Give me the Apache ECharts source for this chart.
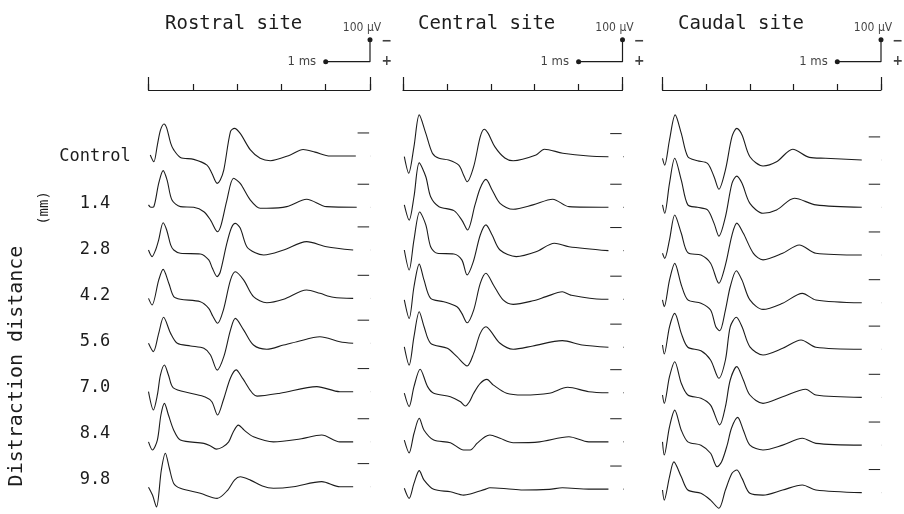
<!DOCTYPE html>
<html>
<head>
<meta charset="utf-8">
<script src="https://cdn.jsdelivr.net/npm/echarts@6/dist/echarts.min.js"></script>
<style>
  html, body { margin: 0; padding: 0; background: #fff; }
  #chart { width: 904px; height: 514px; }
</style>
</head>
<body>
<div id="chart"></div>
<script>
// Evoked spinal cord potentials at three recording sites under graded distraction.
// Each trace: [time (ms), amplitude (µV)], negativity up, "+" down.

const siteNames = ['Rostral site', 'Central site', 'Caudal site'];
const rowLabels = ['Control', '1.4', '2.8', '4.2', '5.6', '7.0', '8.4', '9.8'];

// calibration: 1 ms horizontal, 100 µV vertical
const calTime = [4, 5, 5];
const calAmp = [0, 0, -100];

const rostral = [
  [[0.04,-12],[0.12,19],[0.2,-57],[0.27,-125],[0.35,-153],[0.41,-135],[0.5,-66],[0.57,-35],[0.72,-1],[1.02,8],[1.32,34],[1.43,71],[1.55,117],[1.62,102],[1.70,56],[1.85,-118],[1.94,-133],[2.07,-110],[2.30,-35],[2.52,3],[2.75,14],[3.2,-12],[3.49,-37],[3.76,-25],[4.1,-7],[4.68,-7]],
  [[0,1],[0.05,12],[0.12,9],[0.23,-97],[0.33,-155],[0.42,-112],[0.53,-21],[0.72,9],[1.02,12],[1.25,32],[1.40,70],[1.56,123],[1.64,92],[1.77,-21],[1.92,-120],[2.07,-97],[2.30,-21],[2.52,16],[2.67,16],[3.12,9],[3.57,-25],[4.02,9],[4.7,12]],
  [[0,-8],[0.08,22],[0.16,-8],[0.23,-54],[0.33,-132],[0.41,-99],[0.5,-31],[0.57,-8],[0.72,7],[1.17,10],[1.36,37],[1.44,74],[1.55,113],[1.62,92],[1.76,-31],[1.87,-108],[1.96,-129],[2.07,-108],[2.22,-23],[2.41,5],[2.6,15],[3.05,-8],[3.57,-46],[4.02,-23],[4.62,-8]],
  [[0,-2],[0.08,28],[0.23,-85],[0.33,-134],[0.46,-70],[0.57,-10],[0.72,2],[1.17,13],[1.36,43],[1.45,78],[1.56,111],[1.69,51],[1.85,-85],[1.96,-123],[2.15,-85],[2.37,-10],[2.67,18],[3.05,2],[3.57,-40],[3.87,-25],[4.17,-7],[4.62,-2]],
  [[0,-12],[0.11,26],[0.23,-57],[0.34,-130],[0.5,-57],[0.65,-12],[0.95,0],[1.25,11],[1.40,41],[1.55,110],[1.70,49],[1.85,-72],[1.96,-125],[2.15,-72],[2.37,-4],[2.67,15],[3.05,-4],[3.35,-19],[3.87,-42],[4.32,-19],[4.62,-12]],
  [[0,-6],[0.11,77],[0.2,9],[0.27,-82],[0.36,-127],[0.45,-82],[0.56,-23],[0.95,1],[1.28,18],[1.43,40],[1.56,100],[1.69,32],[1.85,-68],[1.98,-105],[2.12,-68],[2.45,14],[2.97,1],[3.8,-29],[4.32,-6],[4.62,-6]],
  [[0,8],[0.09,45],[0.2,0],[0.28,-114],[0.36,-167],[0.45,-114],[0.57,-45],[0.72,0],[1.25,15],[1.40,27],[1.53,41],[1.67,32],[1.81,8],[1.91,-36],[2.03,-68],[2.16,-45],[2.37,-15],[2.82,8],[3.42,-5],[3.91,-23],[4.32,8],[4.62,8]],
  [[0,0],[0.09,36],[0.18,90],[0.29,-78],[0.38,-154],[0.47,-87],[0.57,-17],[0.72,5],[1.17,28],[1.55,51],[1.79,13],[1.94,-32],[2.07,-47],[2.30,-32],[2.57,-5],[2.82,5],[3.27,-2],[3.91,-25],[4.32,-2],[4.62,-2]]
];

const central = [
  [[0.03,-4],[0.13,71],[0.25,-50],[0.37,-194],[0.52,-110],[0.67,-20],[0.82,3],[1.04,11],[1.27,34],[1.38,79],[1.46,110],[1.61,41],[1.76,-95],[1.85,-129],[1.94,-110],[2.09,-50],[2.32,2],[2.51,14],[3.03,-12],[3.22,-38],[3.64,-20],[4.23,-7],[4.68,-4]],
  [[0.03,1],[0.14,70],[0.25,-36],[0.37,-190],[0.52,-127],[0.63,-36],[0.82,9],[1.16,27],[1.34,70],[1.47,115],[1.64,1],[1.76,-76],[1.89,-115],[2.03,-67],[2.21,-6],[2.51,21],[2.96,1],[3.41,-25],[3.78,9],[4.68,12]],
  [[0.03,-8],[0.14,83],[0.25,-54],[0.38,-181],[0.52,-122],[0.63,-23],[0.78,7],[1.16,10],[1.34,37],[1.46,105],[1.60,46],[1.76,-76],[1.89,-122],[2.03,-76],[2.21,-8],[2.58,22],[3.03,0],[3.45,-39],[3.78,-23],[4.68,-5]],
  [[0.03,5],[0.14,89],[0.25,-55],[0.37,-158],[0.48,-85],[0.63,-2],[0.93,13],[1.23,36],[1.34,66],[1.46,109],[1.61,51],[1.76,-70],[1.89,-116],[2.06,-63],[2.28,5],[2.51,25],[2.96,9],[3.26,-10],[3.63,-32],[3.82,-17],[4.53,2],[4.68,2]],
  [[0.03,4],[0.14,87],[0.25,-42],[0.37,-155],[0.48,-87],[0.63,-12],[1.01,11],[1.23,49],[1.46,91],[1.61,34],[1.76,-57],[1.89,-87],[1.98,-72],[2.21,-12],[2.51,15],[2.96,0],[3.63,-24],[4.08,-4],[4.68,6]],
  [[0.03,1],[0.14,62],[0.25,-29],[0.39,-108],[0.56,-29],[0.70,1],[1.08,17],[1.31,40],[1.42,59],[1.51,41],[1.61,1],[1.76,-44],[1.91,-62],[2.06,-36],[2.36,1],[2.73,9],[3.33,1],[3.75,-26],[4.23,-6],[4.68,-1]],
  [[0.03,0],[0.14,58],[0.25,-30],[0.37,-99],[0.48,-45],[0.70,0],[1.08,12],[1.38,45],[1.53,45],[1.69,14],[1.87,-15],[1.98,-23],[2.21,-8],[2.51,12],[3.11,8],[3.78,-15],[4.23,8],[4.68,8]],
  [[0.03,5],[0.14,51],[0.25,-17],[0.37,-75],[0.48,-32],[0.70,10],[1.08,21],[1.38,36],[1.53,31],[1.87,10],[1.98,3],[2.36,7],[2.73,13],[3.33,10],[3.63,3],[4.23,9],[4.68,9]]
];

const caudal = [
  [[0,3],[0.05,34],[0.16,-80],[0.29,-194],[0.43,-110],[0.58,-4],[0.80,14],[1.03,26],[1.18,87],[1.29,144],[1.44,56],[1.59,-95],[1.70,-133],[1.82,-103],[2.0,-4],[2.30,38],[2.61,19],[2.98,-38],[3.36,-1],[3.73,3],[4.56,11]],
  [[0,1],[0.05,39],[0.16,-97],[0.28,-211],[0.43,-112],[0.58,1],[0.80,12],[1.03,24],[1.18,85],[1.29,143],[1.44,55],[1.59,-97],[1.70,-130],[1.82,-97],[2.0,-6],[2.30,39],[2.61,24],[3.02,-29],[3.51,1],[4.56,12]],
  [[0,7],[0.05,30],[0.16,-54],[0.28,-167],[0.43,-84],[0.58,4],[0.88,15],[1.10,52],[1.29,143],[1.44,60],[1.59,-76],[1.70,-130],[1.85,-84],[2.08,7],[2.30,37],[2.75,7],[3.13,-31],[3.51,7],[4.56,15]],
  [[0,5],[0.04,36],[0.16,-85],[0.28,-161],[0.43,-63],[0.58,5],[0.88,20],[1.10,51],[1.22,127],[1.31,145],[1.44,51],[1.55,-55],[1.69,-128],[1.82,-85],[2.0,5],[2.30,48],[2.75,20],[3.20,-25],[3.51,5],[4.56,18]],
  [[0,-4],[0.04,37],[0.16,-87],[0.28,-148],[0.43,-57],[0.58,6],[0.88,22],[1.10,64],[1.29,147],[1.44,64],[1.55,-87],[1.69,-130],[1.82,-87],[2.0,4],[2.30,41],[2.75,11],[3.17,-27],[3.51,6],[4.56,15]],
  [[0,9],[0.04,47],[0.16,-74],[0.28,-142],[0.43,-44],[0.58,9],[0.88,24],[1.10,55],[1.31,145],[1.44,62],[1.55,-59],[1.70,-120],[1.85,-59],[2.0,9],[2.30,47],[2.75,17],[3.28,-17],[3.51,9],[4.56,20]],
  [[0,8],[0.04,68],[0.16,-60],[0.28,-136],[0.43,-45],[0.58,8],[0.88,23],[1.10,60],[1.25,121],[1.35,100],[1.48,23],[1.58,-55],[1.72,-103],[1.85,-45],[2.0,23],[2.30,45],[2.75,23],[3.20,-8],[3.51,15],[4.56,23]],
  [[0,13],[0.04,59],[0.16,-47],[0.26,-115],[0.43,-47],[0.58,13],[0.88,28],[1.10,59],[1.29,96],[1.44,13],[1.59,-63],[1.70,-78],[1.82,-40],[2.0,28],[2.30,36],[2.75,13],[3.20,-10],[3.51,13],[4.56,25]]
];

const sites = [rostral, central, caudal];

// ---- layout & style ----
const MONO = '"DejaVu Sans Mono", monospace';
const NARROW = '"Liberation Sans Narrow", "DejaVu Sans Condensed", "Liberation Sans", sans-serif';
const INK = '#1c1c1c';
const ROW_STEP = 214;        // vertical spacing between stacked traces (µV)
const CAL_BASE = -436;       // level of the calibration bar (µV, above the first trace)
const panels = [
  { left: 148.5, width: 221.5, titleLeft: 160 },
  { left: 403,   width: 219.5, titleLeft: 413 },
  { left: 662.5, width: 218.5, titleLeft: 673 }
];

const grid = [], xAxis = [], yAxis = [], series = [], title = [];

panels.forEach((p, i) => {
  grid.push({ left: p.left, width: p.width, top: 30, height: 484 });
  // 1-ms time scale bar
  xAxis.push({
    gridIndex: i, type: 'value', min: 0, max: 5, interval: 1,
    position: 'top', offset: -60,
    axisLine: { show: true, onZero: false, lineStyle: { color: INK, width: 1.2 } },
    axisTick: { show: true, length: 6, lineStyle: { color: INK, width: 1.2 } },
    axisLabel: { show: false }, splitLine: { show: false }
  });
  // taller end caps of the bar
  xAxis.push({
    gridIndex: i, type: 'value', min: 0, max: 5, interval: 5,
    position: 'top', offset: -60,
    axisLine: { show: false, onZero: false },
    axisTick: { show: true, length: 13, lineStyle: { color: INK, width: 1.2 } },
    axisLabel: { show: false }, splitLine: { show: false }
  });
  yAxis.push({ gridIndex: i, type: 'value', min: -580, max: 1620, inverse: true, show: false });

  title.push({
    text: siteNames[i], left: p.titleLeft, top: 10,
    textStyle: { fontFamily: MONO, fontSize: 19, fontWeight: 'normal', color: INK }
  });

  // traces
  sites[i].forEach((trace, r) => {
    series.push({
      type: 'line', xAxisIndex: 2 * i, yAxisIndex: i,
      data: trace.map(([t, v]) => [t, v + r * ROW_STEP]),
      smooth: 0.3, symbol: 'none', silent: true,
      lineStyle: { color: INK, width: 1.1 }
    });
  });

  // per-trace reference marks at the right edge
  const marks = [];
  sites[i].forEach((trace, r) => {
    const end = trace[trace.length - 1][1] + r * ROW_STEP;
    marks.push([4.72, end - 105], [4.98, end - 105], [4.99, null], [5.02, end], [5.08, end], [5.09, null]);
  });
  series.push({
    type: 'line', xAxisIndex: 2 * i, yAxisIndex: i, data: marks,
    symbol: 'none', clip: false, connectNulls: false, silent: true,
    lineStyle: { color: INK, width: 1 }
  });

  // calibration: 1 ms / 100 µV
  series.push({
    type: 'line', xAxisIndex: 2 * i, yAxisIndex: i, clip: false, silent: true,
    showSymbol: true, symbol: 'circle', symbolSize: 5,
    itemStyle: { color: INK },
    lineStyle: { color: INK, width: 1.2 },
    data: calTime.map((t, k) => ({
      value: [t, CAL_BASE + calAmp[k]],
      symbol: k === 1 ? 'none' : 'circle'
    }))
  });
  // calibration text
  series.push({
    type: 'scatter', xAxisIndex: 2 * i, yAxisIndex: i, clip: false, silent: true,
    symbolSize: 1, itemStyle: { color: 'rgba(0,0,0,0)' },
    label: { show: true, fontFamily: NARROW, color: '#111' },
    data: [
      { value: [calTime[0], CAL_BASE + calAmp[0]],
        label: { position: 'left', distance: 9, formatter: '1 ms', fontSize: 13 } },
      { value: [calTime[2], CAL_BASE + calAmp[2]],
        label: { position: 'top', distance: 5, offset: [-8, 0], formatter: '100 µV', fontSize: 12 } },
      { value: [calTime[2], CAL_BASE - 91],
        label: { position: 'right', distance: 11, formatter: '−', fontSize: 14, fontWeight: 'bold' } },
      { value: [calTime[1], CAL_BASE + calAmp[1]],
        label: { position: 'right', distance: 11, formatter: '+', fontSize: 14, fontWeight: 'bold' } }
    ]
  });
});

// row labels (distraction distance)
grid.push({ left: 148, width: 10, top: 134, height: 369 });
xAxis.push({ gridIndex: 3, type: 'value', show: false });
yAxis.push({
  gridIndex: 3, type: 'category', data: rowLabels, inverse: true,
  axisLine: { show: false }, axisTick: { show: false }, splitLine: { show: false },
  axisLabel: { margin: 53, align: 'center', fontFamily: MONO, fontSize: 17, color: INK }
});

const chart = echarts.init(document.getElementById('chart'), null, { renderer: 'canvas' });
chart.setOption({
  animation: false,
  backgroundColor: '#fff',
  title, grid, xAxis, yAxis, series,
  graphic: [
    { type: 'text', x: 17, y: 366, rotation: Math.PI / 2,
      style: { text: 'Distraction distance', font: '20px ' + MONO, fill: INK,
               textAlign: 'center', textVerticalAlign: 'middle' } },
    { type: 'text', x: 44, y: 208, rotation: Math.PI / 2,
      style: { text: '(mm)', font: '14px ' + MONO, fill: INK,
               textAlign: 'center', textVerticalAlign: 'middle' } }
  ]
});
</script>
</body>
</html>
